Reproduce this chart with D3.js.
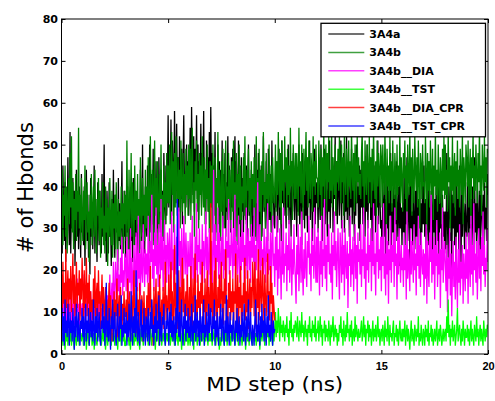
<!DOCTYPE html>
<html><head><meta charset="utf-8">
<script src="https://cdn.jsdelivr.net/npm/d3@7"></script>
<style>body{margin:0;background:#fff}svg{display:block}</style>
</head><body>
<svg id="c" width="495" height="401"></svg>
<script>
const seriesNames = ["3A4a","3A4b","3A4b__DIA","3A4b__TST","3A4b__DIA_CPR","3A4b__TST_CPR"];
const seriesColors = ["#000000","#008000","#ff00ff","#00ff00","#ff0000","#0000ff"];
const xTicks = [0,5,10,15,20];
const yTicks = [0,10,20,30,40,50,60,70,80];

// 3A4a, 0-20 ns (30 samples per ns)
const s3A4a = [
38,24,45,31,27,41,22,35,29,47,33,26,53,24,36,30,42,27,39,21,34,44,28,37,25,40,31,23,43,29,
35,26,40,21,34,44,27,38,23,31,19,42,28,36,25,33,45,24,37,29,22,41,32,26,39,30,24,43,28,35,
50,27,35,22,39,30,24,41,28,33,21,37,26,44,30,23,38,29,34,20,42,27,36,25,31,46,24,33,28,39,
23,36,29,40,25,32,20,38,27,35,22,42,31,26,39,28,34,21,37,30,25,44,33,27,50,29,36,24,40,31,
28,45,33,24,50,36,29,43,31,49,27,38,34,46,30,41,26,47,35,29,44,32,39,27,48,36,31,45,33,40,
57,35,48,40,56,33,51,42,38,58,44,36,55,39,47,34,52,41,37,49,31,45,57,38,43,35,50,40,46,33,
41,54,36,59,45,38,52,34,49,43,57,37,50,32,46,39,55,35,48,42,58,36,44,31,51,40,47,34,53,38,
59,40,48,31,45,36,53,29,42,38,50,33,46,27,44,37,51,30,43,35,48,28,41,34,52,32,45,38,29,47,
35,49,30,43,52,28,46,37,33,51,31,40,26,47,34,42,29,48,36,32,45,27,39,50,33,41,30,44,35,28,
42,29,50,36,27,44,33,48,25,39,31,45,28,37,52,34,41,30,46,35,27,49,38,32,43,29,51,36,40,31,
30,41,35,46,29,38,49,32,43,27,51,36,40,33,47,38,30,44,35,50,31,42,37,28,46,34,48,39,32,45,
38,28,44,34,50,31,45,37,26,48,35,42,30,46,33,40,29,47,36,51,32,43,38,27,45,34,49,31,41,36,
41,29,47,36,32,50,39,27,44,35,49,31,42,38,28,45,34,51,30,40,36,47,29,43,37,52,33,46,31,39,
46,33,40,51,30,43,36,48,29,41,34,52,32,45,37,28,44,35,49,31,42,38,27,47,33,50,36,40,30,45,
27,44,35,49,31,38,46,28,42,34,50,30,40,36,47,32,43,26,48,37,33,45,29,41,35,51,31,44,38,30,
32,24,41,35,28,45,22,37,30,43,26,39,33,48,25,36,29,42,23,38,31,46,27,34,40,21,44,30,35,26,
36,29,44,23,38,31,47,27,35,40,21,42,30,34,26,43,32,25,39,28,45,22,37,33,41,24,36,29,46,31,
45,28,37,22,41,33,26,46,30,24,39,35,20,43,29,37,23,40,32,27,44,21,36,30,42,25,38,28,34,24,
34,25,48,31,23,40,36,27,44,19,38,30,42,26,35,22,41,29,37,24,45,32,20,39,28,43,33,25,36,30,
28,41,33,22,45,30,37,25,40,32,21,47,29,36,24,42,31,26,39,23,44,34,28,38,22,41,30,35,27,43,
38];
// 3A4b, 0-20 ns
const s3A4b = [
30,44,26,38,33,45,28,40,24,36,42,31,48,35,52,29,41,25,37,32,43,27,39,34,54,30,38,26,42,33,
27,39,32,45,25,36,41,29,34,22,38,30,43,26,35,40,28,44,31,24,37,33,42,27,39,23,35,30,41,26,
33,24,40,29,37,21,35,28,42,31,26,39,23,36,30,38,25,41,32,22,37,28,34,26,40,30,36,24,39,31,
38,27,51,33,25,44,30,36,48,28,41,34,26,45,32,39,29,43,31,37,24,47,35,28,42,33,38,27,44,30,
40,30,47,35,27,52,37,31,44,26,39,51,33,42,29,46,36,30,43,34,50,32,38,28,45,35,41,31,48,36,
45,36,50,31,42,53,38,46,29,48,35,52,40,33,47,37,44,30,51,39,34,48,36,43,31,49,38,45,33,50,
37,49,32,44,54,36,41,28,46,39,51,34,43,30,48,38,45,33,52,40,35,47,31,44,37,50,34,42,29,46,
35,45,29,50,38,33,47,27,42,36,53,31,44,39,28,46,34,49,37,30,43,51,35,40,32,48,36,44,30,41,
46,34,51,30,41,37,48,26,43,35,50,32,45,29,40,36,47,33,52,38,31,44,39,49,34,42,28,46,37,43,
33,47,38,28,52,36,42,31,49,34,44,27,46,38,53,35,41,30,48,37,43,32,50,39,34,45,29,47,40,36,
40,50,34,46,38,53,42,35,48,31,51,39,44,36,52,41,47,33,49,38,45,35,54,40,46,32,50,43,37,48,
37,48,43,33,54,40,46,36,50,41,32,49,38,45,53,39,47,35,51,42,37,48,44,34,52,40,46,38,50,42,
42,35,51,44,38,49,31,47,40,53,36,45,50,34,48,41,52,37,44,39,54,35,47,42,38,50,33,46,41,49,
39,52,44,36,50,41,47,33,53,42,38,49,45,35,51,40,46,37,54,43,39,48,34,50,44,36,52,41,47,38,
43,37,48,53,40,46,34,51,42,38,50,44,36,52,41,47,35,49,39,54,42,37,46,33,51,40,48,44,36,50,
47,35,50,42,38,53,44,30,49,40,45,36,52,39,46,34,51,41,37,48,43,32,50,38,45,40,53,36,47,42,
34,48,42,51,37,45,31,50,43,38,53,40,47,33,49,41,36,52,44,39,47,35,51,42,30,48,45,37,50,40,
41,36,52,44,30,48,39,46,35,51,42,37,49,32,45,40,53,38,44,34,50,41,36,47,43,31,49,39,52,37,
50,38,44,34,53,41,47,29,45,39,52,36,43,48,33,46,40,51,37,44,35,49,42,38,53,31,47,43,36,50,
46,40,51,35,44,49,31,47,42,53,37,45,39,50,43,36,48,41,54,38,45,33,50,44,39,52,41,47,35,49,
48];
// 3A4b__DIA, 0-20 ns
const sDIA = [
10,14,7,12,17,9,13,6,11,16,8,12,10,15,5,12,9,16,7,11,13,8,18,10,12,6,15,10,9,12,
12,9,19,10,7,14,11,16,8,12,10,15,6,11,13,9,17,10,7,12,10,16,8,12,14,6,11,9,15,10,
9,13,7,16,10,14,8,12,19,10,13,17,11,22,13,12,22,18,13,25,15,19,11,23,17,28,14,20,16,24,
22,15,28,19,13,25,17,30,14,23,18,12,26,20,16,29,21,15,33,18,24,14,27,20,17,31,22,16,25,19,
24,17,33,20,14,27,22,38,18,25,15,29,21,35,19,26,16,31,23,18,37,20,28,15,24,32,19,26,17,29,
26,16,30,22,18,34,20,25,15,31,23,19,28,17,24,35,21,27,16,30,22,18,33,25,19,29,23,15,27,21,
21,29,14,25,33,18,23,16,28,20,36,17,26,22,30,19,25,15,31,21,27,17,24,34,20,28,16,23,30,19,
19,27,15,24,44,20,31,17,26,22,35,18,29,23,16,28,21,33,18,25,20,30,15,27,23,37,19,26,21,32,
25,18,30,21,38,16,27,23,19,33,24,17,28,20,32,22,29,16,26,21,35,18,25,30,20,27,17,31,23,28,
22,35,17,26,20,29,41,18,24,31,16,27,21,25,19,30,23,17,28,22,36,19,25,20,29,15,26,33,21,24,
16,28,20,33,14,25,18,30,22,13,27,19,35,17,24,21,29,15,26,20,32,17,23,28,14,25,19,31,22,18,
12,26,19,31,15,22,28,17,34,20,14,25,18,29,21,16,27,23,33,19,24,15,30,21,26,18,35,22,17,28,
17,30,23,14,27,19,33,16,25,21,37,18,26,15,28,22,31,19,24,17,29,13,26,21,34,20,27,16,23,30,
20,13,29,24,17,32,19,26,14,30,22,18,27,11,24,21,33,16,25,19,28,15,23,31,18,26,12,29,22,25,
19,31,16,25,21,35,18,28,13,24,20,32,17,26,22,30,15,27,21,36,19,24,14,29,22,33,18,25,20,28,
15,28,21,36,18,24,14,31,19,27,12,25,20,33,17,26,22,29,16,35,21,24,13,28,19,30,23,17,26,20,
23,16,29,20,26,13,34,18,25,21,15,30,19,27,22,17,31,20,24,14,28,21,33,18,26,16,29,22,19,25,
14,24,18,31,12,27,20,16,29,22,38,17,25,19,28,13,26,21,32,16,24,19,29,11,25,20,35,17,23,27,
21,15,26,10,23,18,30,14,24,9,20,27,16,22,13,28,19,11,25,17,31,14,22,18,26,12,24,20,15,29,
18,25,12,29,21,16,33,19,26,14,36,20,24,17,27,13,22,30,18,25,15,28,21,34,19,26,16,23,20,30,
22];
// 3A4b__TST, 0-20 ns
const sTST = [
3,5,2,6,4,1,5,3,7,2,4,6,3,5,2,4,6,3,1,5,4,2,6,3,5,2,7,4,3,5,
4,2,6,3,5,1,4,7,3,2,5,4,6,2,3,5,1,4,6,3,2,5,4,7,3,5,2,4,6,3,
5,3,1,4,6,2,5,3,4,7,2,5,3,6,4,2,5,3,6,1,4,5,3,7,2,4,6,3,5,2,
2,4,6,3,5,2,4,1,5,3,6,4,2,5,3,6,4,2,5,3,1,4,6,3,5,2,4,7,3,5,
4,6,2,5,3,7,4,2,5,3,6,4,1,5,3,4,6,2,5,3,7,2,4,5,3,6,2,4,5,3,
5,3,6,2,4,5,3,7,4,2,5,3,6,4,2,5,3,6,4,1,5,3,7,2,4,6,3,5,2,4,
4,2,5,3,6,4,1,5,3,7,4,2,5,3,6,2,4,5,3,6,4,2,5,3,7,4,2,6,3,5,
3,5,2,6,4,3,5,2,4,6,3,5,1,4,2,5,3,6,4,2,5,3,6,2,4,7,3,5,2,4,
5,3,6,4,2,5,7,3,4,2,6,4,3,5,2,4,6,3,5,1,4,6,3,5,2,7,4,3,5,2,
4,6,3,5,2,4,7,3,5,1,4,6,3,5,8,4,2,6,3,5,4,7,2,5,3,6,4,2,5,3,
6,10,4,8,5,11,7,3,9,5,7,4,8,6,3,7,5,9,4,6,2,8,5,10,4,6,3,7,5,8,
7,4,9,5,3,8,6,4,10,5,7,3,6,8,4,6,2,7,5,9,4,6,3,8,5,7,4,9,3,6,
5,8,3,6,9,4,7,2,6,5,8,3,7,4,6,3,8,5,2,7,4,6,9,3,5,7,4,6,2,5,
3,7,5,9,4,6,2,8,5,3,7,4,10,5,6,3,7,4,8,2,5,6,3,9,4,7,5,3,6,4,
4,6,8,3,5,9,4,7,2,6,5,8,3,7,4,6,2,5,8,3,6,4,7,3,5,9,4,6,2,5,
6,3,7,5,2,8,4,6,3,9,5,2,7,4,5,3,6,8,2,5,4,7,3,6,2,5,8,4,3,6,
3,6,4,8,2,5,7,3,6,4,1,5,8,3,6,4,2,7,5,3,6,4,9,2,5,3,7,4,2,6,
5,2,7,4,6,3,8,2,5,4,7,3,6,2,4,6,3,5,8,2,4,6,3,7,5,2,4,6,3,5,
6,3,9,5,13,4,7,2,6,4,8,3,5,7,2,4,6,11,3,5,7,4,2,6,3,8,5,2,6,4,
4,7,3,6,2,5,8,3,6,4,2,7,5,3,9,4,6,2,5,7,3,6,4,2,8,5,3,6,4,7,
6];
// 3A4b__DIA_CPR, 0-10 ns
const sDIACPR = [
19,8,22,12,17,6,25,11,15,20,9,18,13,21,10,16,24,12,19,9,15,22,11,17,14,20,8,18,13,23,
16,7,20,11,14,23,9,17,12,19,6,15,10,13,8,18,11,21,7,14,17,9,20,12,15,6,13,19,10,16,
12,5,16,9,13,4,11,17,7,14,10,3,12,8,15,6,13,9,18,4,11,14,7,16,10,5,12,8,15,9,
9,13,4,18,7,11,15,3,10,14,6,12,20,8,11,5,16,9,13,4,17,10,7,14,12,3,15,8,11,6,
14,4,17,9,12,21,6,13,10,2,16,8,12,18,5,11,15,7,19,10,4,13,9,16,6,12,22,8,14,10,
11,19,7,14,22,9,15,5,12,26,8,17,11,6,13,20,9,16,7,14,23,10,18,6,12,15,9,19,11,7,
16,8,21,12,5,18,10,14,24,7,13,9,19,11,15,6,17,12,22,8,14,10,18,5,13,20,9,16,11,7,
36,10,17,6,14,20,9,23,12,4,16,11,19,8,14,22,10,15,7,18,12,25,9,13,6,17,11,20,8,15,
10,18,6,15,12,24,8,13,19,5,16,11,21,7,14,9,17,12,23,8,15,10,20,6,13,18,9,16,11,22,
17,9,22,13,6,18,11,25,8,15,20,10,14,23,12,7,19,13,9,16,24,10,15,8,21,12,17,6,14,11,
8];
// 3A4b__TST_CPR, 0-10 ns
const sTSTCPR = [
6,11,3,9,2,13,5,8,4,12,7,2,10,5,8,3,11,6,1,9,4,12,7,3,10,5,2,8,6,11,
4,9,2,7,12,3,8,5,11,2,6,10,4,8,3,13,6,2,9,5,11,3,7,10,4,2,8,6,12,5,
9,2,6,17,4,8,3,11,5,1,9,6,13,3,7,10,4,2,8,12,5,3,9,6,14,2,7,4,11,5,
5,10,2,8,4,12,6,3,15,7,2,9,5,11,4,20,6,3,10,5,2,8,13,4,7,3,11,6,2,9,
8,3,11,5,2,10,6,13,4,7,2,9,5,12,3,8,6,14,2,10,5,3,9,7,12,4,2,8,6,11,
7,2,10,5,12,4,8,3,9,6,2,11,5,37,8,4,10,3,7,13,5,2,9,6,12,3,8,5,11,4,
4,9,3,12,6,2,8,5,14,3,7,10,4,8,2,11,6,3,9,5,13,2,7,4,10,6,3,12,5,8,
11,5,3,9,6,13,2,8,4,10,5,2,9,6,12,3,7,11,4,2,8,5,14,3,9,6,2,10,5,7,
3,7,10,4,2,8,5,11,3,6,9,2,7,4,10,6,3,12,5,2,9,4,8,13,3,6,10,4,2,7,
5,2,8,13,4,7,3,10,6,2,9,4,12,5,8,3,11,6,2,9,5,14,4,7,3,10,6,2,8,5,
6];
const seriesSpans = [20,20,20,20,10,10];
const seriesData = [s3A4a,s3A4b,sDIA,sTST,sDIACPR,sTSTCPR];

const svg = d3.select("#c");
const L = 61.5, R = 488, T = 19, B = 354;
const x = d3.scaleLinear().domain([0,20]).range([L,R]);
const y = d3.scaleLinear().domain([0,80]).range([B,T]);

svg.append("defs").append("clipPath").attr("id","clip")
  .append("rect").attr("x",L).attr("y",T).attr("width",R-L).attr("height",B-T);

const g = svg.append("g").attr("clip-path","url(#clip)");
seriesData.forEach((arr,k)=>{
  const span = seriesSpans[k];
  const n = arr.length - 1;
  const line = d3.line().x((d,i)=>x(i*span/n)).y(d=>y(d));
  g.append("path").attr("d",line(arr)).attr("fill","none")
    .attr("stroke",seriesColors[k]).attr("stroke-width",1.3).attr("stroke-linejoin","bevel");
});

const fontA = "Arial, 'Liberation Sans', Helvetica, sans-serif";
const fontD = "'DejaVu Sans', sans-serif";
// axes
const ax = svg.append("g").attr("transform",`translate(0,${B})`)
  .call(d3.axisBottom(x).tickValues(xTicks).tickSize(-4).tickPadding(8).tickFormat(d3.format("d")));
const axT = svg.append("g").attr("transform",`translate(0,${T})`)
  .call(d3.axisTop(x).tickValues(xTicks).tickSize(-4).tickFormat(""));
const ay = svg.append("g").attr("transform",`translate(${L},0)`)
  .call(d3.axisLeft(y).tickValues(yTicks).tickSize(-4).tickPadding(3.5).tickFormat(d3.format("d")));
const ayR = svg.append("g").attr("transform",`translate(${R},0)`)
  .call(d3.axisRight(y).tickValues(yTicks).tickSize(-4).tickFormat(""));
[ax,axT,ay,ayR].forEach(a=>{
  a.select(".domain").remove();
  a.selectAll("line").attr("stroke","#000");
  a.selectAll("text").attr("font-size",11).attr("font-weight","bold").attr("fill","#000");
});
ax.selectAll("text").attr("font-family",fontA).attr("dy","0.71em");
ay.selectAll("text").attr("font-family",fontD);
svg.append("rect").attr("x",L).attr("y",T).attr("width",R-L).attr("height",B-T)
  .attr("fill","none").attr("stroke","#000").attr("stroke-width",1);

// axis labels
svg.append("text").attr("x",(L+R)/2).attr("y",391).attr("text-anchor","middle")
  .attr("font-family",fontD).attr("font-size",20).attr("textLength",137).attr("lengthAdjust","spacingAndGlyphs")
  .text("MD step (ns)");
svg.append("text").attr("transform",`translate(33,187.5) rotate(-90)`).attr("text-anchor","middle")
  .attr("font-family",fontD).attr("font-size",21).text("# of Hbonds");

// legend
const lg = svg.append("g");
lg.append("rect").attr("x",321).attr("y",23.3).attr("width",164.5).attr("height",113.5)
  .attr("fill","#fff").attr("stroke","#000").attr("stroke-width",1.3);
seriesNames.forEach((nm,k)=>{
  const yy = 34 + k*18.4;
  lg.append("line").attr("x1",328.3).attr("x2",364.3).attr("y1",yy).attr("y2",yy)
    .attr("stroke",seriesColors[k]).attr("stroke-width",1.5).attr("stroke-opacity",0.75);
  lg.append("text").attr("x",369.3).attr("y",yy).attr("dy","0.36em")
    .attr("font-family",fontD).attr("font-size",11).attr("font-weight","bold").text(nm);
});
</script>
</body></html>
